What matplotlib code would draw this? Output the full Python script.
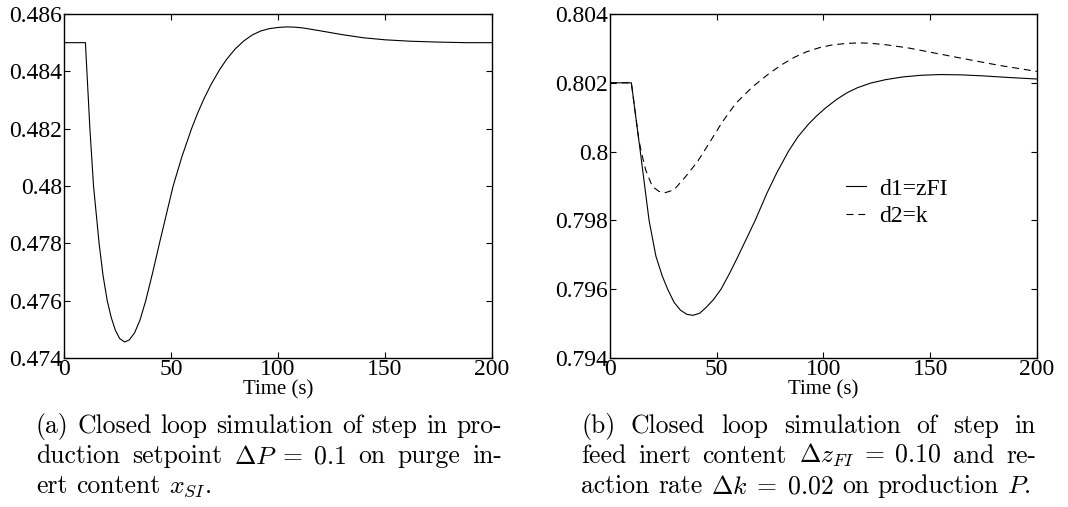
import matplotlib
matplotlib.use("Agg")
import matplotlib.pyplot as plt
from matplotlib.ticker import FormatStrFormatter, FuncFormatter

plt.rcParams['mathtext.fontset'] = 'cm'
plt.rcParams['lines.scale_dashes'] = False

# --- (a) purge inert content x_SI after production setpoint step ---
t_a = [0, 10, 12.1, 13.8, 16.4, 18.2, 20.2, 22, 24, 26, 28.3, 30.5, 33, 35.5,
       38.2, 41.5, 44.6, 47.8, 51, 55, 59.6, 62.5, 65.5, 69, 72.9, 76, 80,
       84, 88, 92, 96, 100, 104, 108, 112, 120, 130, 140, 150, 162, 175,
       188, 200]
x_si = [0.4850, 0.4850, 0.4820, 0.4800, 0.4780, 0.4769, 0.4760, 0.47543,
        0.47497, 0.47468, 0.47456, 0.47463, 0.47488, 0.47532, 0.4760, 0.4770,
        0.4780, 0.4790, 0.4800, 0.4810, 0.48200, 0.48255, 0.48306, 0.48358,
        0.48408, 0.48442, 0.48478, 0.48506, 0.48527, 0.48541, 0.48549,
        0.48553, 0.48555, 0.48554, 0.48551, 0.48541, 0.48528, 0.48517,
        0.48510, 0.48505, 0.48502, 0.48500, 0.48500]

# --- (b) production P for disturbances d1 (feed inert) and d2 (reaction rate) ---
t_d1 = [0, 10, 14.2, 18.3, 21.5, 24.5, 27, 30, 33, 36, 38.8, 42, 45, 48.5,
        52, 56, 60, 64, 68, 73.5, 78, 83.5, 88, 93, 97, 101, 106, 111, 116,
        122, 129, 137, 146, 155, 165, 175, 188, 200]
p_d1 = [0.8020, 0.8020, 0.8000, 0.7980, 0.79696, 0.79638, 0.7960, 0.79562,
        0.79539, 0.79527, 0.79524, 0.79530, 0.79547, 0.79570, 0.7960, 0.79646,
        0.79696, 0.79748, 0.7980, 0.79879, 0.79937, 0.80000, 0.80043,
        0.80080, 0.80105, 0.80127, 0.80151, 0.80171, 0.80186, 0.80199,
        0.80209, 0.80217, 0.80222, 0.80224, 0.80223, 0.80220, 0.80215,
        0.80211]

t_d2 = [0, 10, 13.5, 15, 16.7, 19.8, 23, 26.1, 30, 35.5, 41, 46.4, 52.7, 58.9,
        66.7, 74.5, 80.8, 86.3, 92, 98, 104, 110, 116, 122, 130, 140, 150,
        160, 170, 182, 191, 200]
p_d2 = [0.8020, 0.8020, 0.80034, 0.79990, 0.79947, 0.79899, 0.79884, 0.79881,
        0.79889, 0.79928, 0.79971, 0.80024, 0.80087, 0.80140, 0.80188, 0.80227,
        0.80254, 0.80274, 0.80290, 0.80302, 0.80310, 0.80314, 0.80316,
        0.80315, 0.80310, 0.80301, 0.80289, 0.80277, 0.80265, 0.80251,
        0.80242, 0.80233]

yticks_a = [0.474, 0.476, 0.478, 0.48, 0.482, 0.484, 0.486]
yticks_b = [0.794, 0.796, 0.798, 0.8, 0.802, 0.804]
xticks = [0, 50, 100, 150, 200]

caption_a = [
    ["(a)", "Closed", "loop", "simulation", "of", "step", "in", "pro-"],
    ["duction", "setpoint", r"$\Delta P\;=\;0.1$", "on", "purge", "in-"],
    ["ert", "content", r"$x_{SI}$."],
]
caption_b = [
    ["(b)", "Closed", "loop", "simulation", "of", "step", "in"],
    ["feed", "inert", "content", r"$\Delta z_{FI}\;=\;0.10$", "and", "re-"],
    ["action", "rate", r"$\Delta k\;=\;0.02$", "on", "production", r"$P$."],
]

W, H = 1068, 507
fig = plt.figure(figsize=(W / 100, H / 100), dpi=100)

SERIF = 'Liberation Serif'


def style_axes(ax, yticks, fmt):
    ax.set_xlim(0, 200)
    ax.set_ylim(yticks[0], yticks[-1])
    ax.set_xticks(xticks)
    ax.set_yticks(yticks)
    ax.yaxis.set_major_formatter(fmt)
    ax.tick_params(direction='in', top=True, right=True, length=4, width=0.8)
    ax.tick_params(axis='y', pad=1.5)
    ax.tick_params(axis='x', pad=1)
    for lab in ax.get_xticklabels() + ax.get_yticklabels():
        lab.set_fontfamily(SERIF)
        lab.set_fontsize(17)
    for sp in ax.spines.values():
        sp.set_linewidth(1.0)
    ax.set_xlabel('Time (s)', fontfamily=SERIF, fontsize=15, labelpad=0)


ax1 = fig.add_axes([64 / W, 1 - 358 / H, 428 / W, 344 / H])
ax1.plot(t_a, x_si, color='black', lw=0.8)
style_axes(ax1, yticks_a, FormatStrFormatter('%g'))

ax2 = fig.add_axes([610 / W, 1 - 358 / H, 427 / W, 344 / H])
ax2.plot(t_d1, p_d1, color='black', lw=0.8, label='d1=zFI')
ax2.plot(t_d2, p_d2, color='black', lw=0.8, dashes=(5, 3.5), label='d2=k')
style_axes(ax2, yticks_b, FuncFormatter(lambda v, pos: '%g' % round(v, 3)))
ax2.legend(loc='center left', bbox_to_anchor=(0.502, 0.452), frameon=False,
           prop={'family': SERIF, 'size': 17},
           handlelength=0.85, handletextpad=0.55, labelspacing=0.25)

# captions set in Computer Modern, justified line by line
cap_kw = dict(family='cmr10', fontsize=18.5, va='baseline', ha='left')
renderer = fig.canvas.get_renderer()


def caption(lines, x0, x1, baselines):
    space = 0.333 * cap_kw['fontsize'] * 100 / 72
    for i, (words, yb) in enumerate(zip(lines, baselines)):
        texts = [fig.text(0, 1 - yb / H, w, **cap_kw) for w in words]
        widths = [t.get_window_extent(renderer).width for t in texts]
        gap = (x1 - x0 - sum(widths)) / (len(words) - 1)
        if i == len(lines) - 1:
            gap = min(gap, space)
        x = x0
        for t, w in zip(texts, widths):
            t.set_x(x / W)
            x += w + gap


caption(caption_a, 36, 502, [433, 463, 493])
caption(caption_b, 581, 1036, [433, 463, 493])

fig.savefig('out.png', dpi=100)
